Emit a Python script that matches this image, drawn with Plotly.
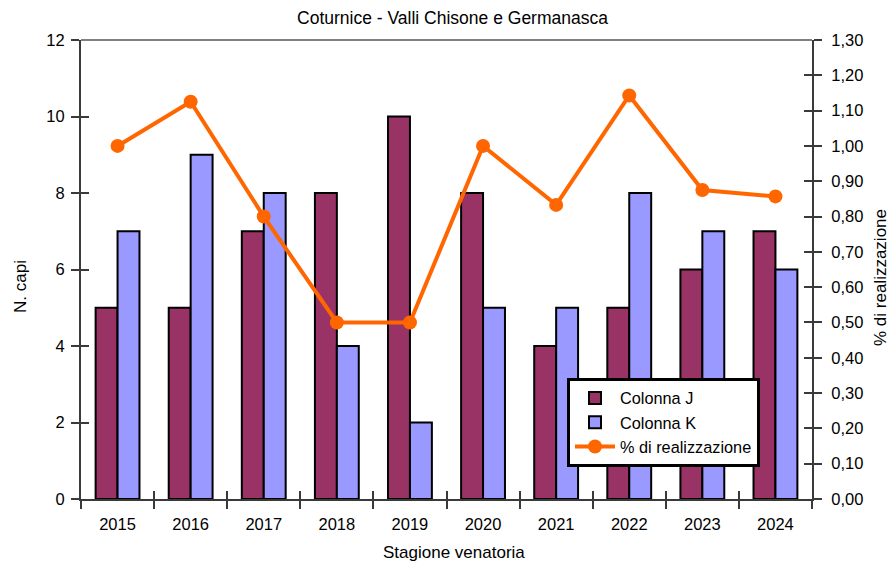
import plotly.graph_objects as go

# Hunting seasons and counts
seasons = ["2015", "2016", "2017", "2018", "2019", "2020", "2021", "2022", "2023", "2024"]
colonna_j = [5, 5, 7, 8, 10, 8, 4, 5, 6, 7]
colonna_k = [7, 9, 8, 4, 2, 5, 5, 8, 7, 6]
realizzazione = [1.00, 1.125, 0.80, 0.50, 0.50, 1.00, 0.833, 1.143, 0.875, 0.857]

FONT = "Liberation Sans, Arial, sans-serif"
AXIS_COLOR = "#3a3a3a"

# plot area in pixels (used to place the free-standing axis titles)
W, H = 890, 565
L, R, T, B = 81, 812, 40, 499


def px_to_paper(px, py):
    return (px - L) / (R - L), (B - py) / (B - T)


fig = go.Figure()

fig.add_trace(go.Bar(
    x=seasons, y=colonna_j, name="Colonna J",
    marker=dict(color="#993366", line=dict(color="black", width=2)),
))
fig.add_trace(go.Bar(
    x=seasons, y=colonna_k, name="Colonna K",
    marker=dict(color="#9999FF", line=dict(color="black", width=2)),
))
fig.add_trace(go.Scatter(
    x=seasons, y=realizzazione, name="% di realizzazione", yaxis="y2",
    mode="lines+markers",
    line=dict(color="#FF6600", width=4),
    marker=dict(color="#FF6600", size=14),
))

tick_font = dict(size=16.5)

fig.update_layout(
    width=W, height=H,
    margin=dict(l=L, r=W - R, t=T, b=H - B),
    paper_bgcolor="white", plot_bgcolor="white",
    font=dict(family=FONT, size=16.5, color="black"),
    separators=",.",
    barmode="group", bargap=0.4, bargroupgap=0,
    showlegend=True,
    title=dict(text="Coturnice - Valli Chisone e Germanasca", x=452.5 / W, xanchor="center",
               y=1 - 18 / H, yref="container", yanchor="middle",
               font=dict(size=17.5)),
    xaxis=dict(
        type="category", range=[-0.5, 9.5],
        showline=True, linecolor=AXIS_COLOR, linewidth=2,
        ticks="outside", tickson="boundaries", ticklen=8, tickcolor=AXIS_COLOR, tickwidth=2,
        ticklabelstandoff=9, tickfont=tick_font,
        showgrid=False, zeroline=False,
    ),
    yaxis=dict(
        range=[0, 12], dtick=2,
        showline=True, linecolor=AXIS_COLOR, linewidth=2,
        ticks="outside", ticklen=8, tickcolor=AXIS_COLOR, tickwidth=2,
        ticklabelstandoff=3, tickfont=tick_font,
        showgrid=False, zeroline=False,
    ),
    yaxis2=dict(
        range=[0, 1.3], dtick=0.1, tickformat=".2f",
        overlaying="y", side="right",
        showline=True, linecolor=AXIS_COLOR, linewidth=2,
        ticks="outside", ticklen=8, tickcolor=AXIS_COLOR, tickwidth=2,
        ticklabelstandoff=6, tickfont=tick_font,
        showgrid=False, zeroline=False,
    ),
    # inner halves of the crossing tick marks
    yaxis3=dict(
        range=[0, 12], dtick=2, overlaying="y", side="left",
        ticks="inside", ticklen=8, tickcolor=AXIS_COLOR, tickwidth=2,
        showticklabels=False, showgrid=False, zeroline=False, showline=False,
    ),
    yaxis4=dict(
        range=[0, 1.3], dtick=0.1, overlaying="y", side="right",
        ticks="inside", ticklen=8, tickcolor=AXIS_COLOR, tickwidth=2,
        showticklabels=False, showgrid=False, zeroline=False, showline=False,
    ),
    xaxis2=dict(
        type="linear", range=[-0.5, 9.5], overlaying="x", side="bottom",
        tickvals=[i - 0.5 for i in range(len(seasons) + 1)],
        ticks="inside", ticklen=8, tickcolor=AXIS_COLOR, tickwidth=2,
        showticklabels=False, showgrid=False, zeroline=False, showline=False,
    ),
    legend=dict(
        x=(567 - L) / (R - L), y=(B - 378) / (B - T), xanchor="left", yanchor="top",
        bgcolor="white", bordercolor="black", borderwidth=3,
        font=dict(size=16.3), itemwidth=40, tracegroupgap=0,
    ),
    shapes=[dict(type="line", xref="paper", yref="paper", x0=0, x1=1, y0=1, y1=1,
                 line=dict(color="#808080", width=2))],
)

# axis titles
for text, (px, py), angle in [
    ("Stagione venatoria", (454, 552), 0),
    ("N. capi", (20, 287), -90),
    ("% di realizzazione", (880, 278), -90),
]:
    ax, ay = px_to_paper(px, py)
    fig.add_annotation(text=text, x=ax, y=ay, xref="paper", yref="paper",
                       xanchor="center", yanchor="middle", showarrow=False,
                       textangle=angle, font=dict(size=17))

# invisible helper traces so the tick overlay axes are drawn
fig.add_trace(go.Scatter(x=[0], y=[0], xaxis="x2", yaxis="y3", mode="markers",
                         marker=dict(opacity=0), showlegend=False, hoverinfo="skip"))
fig.add_trace(go.Scatter(x=[0], y=[0], yaxis="y4", mode="markers",
                         marker=dict(opacity=0), showlegend=False, hoverinfo="skip"))

fig.write_html("out.html")
